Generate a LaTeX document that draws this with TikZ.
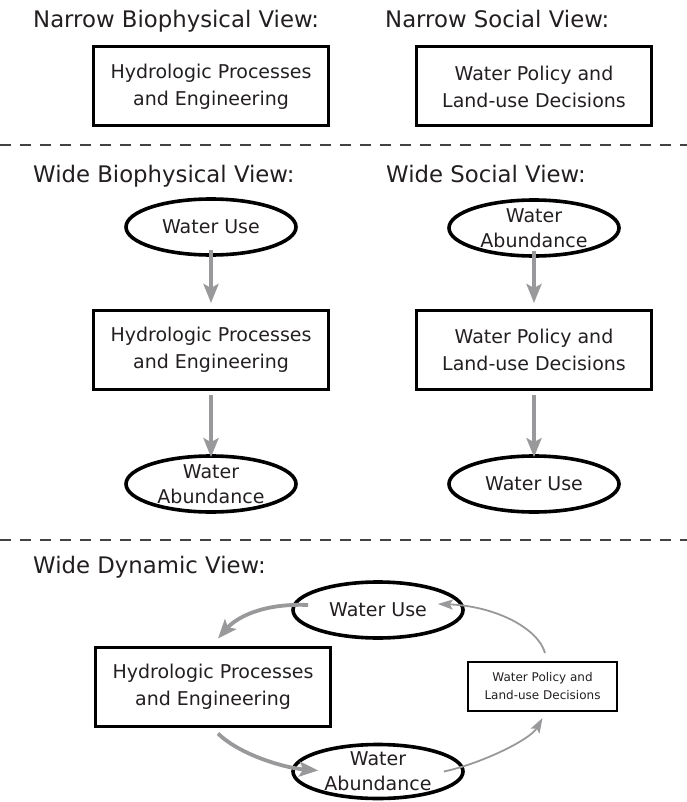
\documentclass[tikz,border=0pt]{standalone}
\usepackage{fontspec}
\setmainfont{DejaVu Sans}
\usetikzlibrary{shapes.geometric,arrows.meta}
\definecolor{flowgray}{RGB}{153,153,155}
\definecolor{inkdark}{RGB}{35,31,32}

\begin{document}
\begin{tikzpicture}[x=1pt,y=-1pt,
    heading/.style={anchor=base west,inner sep=0pt,text=inkdark,
                    font=\fontsize{22.8}{27}\selectfont},
    procbox/.style={draw,line width=3pt,minimum width=235pt,minimum height=79pt,
                    align=center,text=inkdark,font=\fontsize{19}{27}\selectfont},
    smallbox/.style={draw,line width=2pt,minimum width=149pt,minimum height=49pt,
                    align=center,text=inkdark,font=\fontsize{12}{18}\selectfont},
    quantity/.style={ellipse,draw,line width=3.6pt,minimum width=170pt,minimum height=56pt,
                    inner sep=-6pt,align=center,text=inkdark,
                    font=\fontsize{19}{25}\selectfont},
    flow/.style={-{Stealth[length=19pt,width=15pt,inset=4pt]},line width=3.8pt,draw=flowgray},
    thinflow/.style={-{Stealth[length=15pt,width=10pt,inset=3pt]},line width=1.8pt,draw=flowgray},
    divider/.style={draw=inkdark!85,line width=1.8pt,dash pattern=on 11pt off 9pt}]
    \useasboundingbox (0,0) rectangle (687,802);

    % narrow views
    \node [heading] (nbio) at (33,28) {Narrow Biophysical View:};
    \node [heading] (nsoc) at (385,28) {Narrow Social View:};
    \node [procbox] (nhyd) at (211,86.5) {Hydrologic Processes\\and Engineering};
    \node [procbox] (npol) at (534,86.5) {Water Policy and\\Land-use Decisions};

    \draw [divider] (0,145) -- (687,145);

    % wide views
    \node [heading] (wbio) at (33,183) {Wide Biophysical View:};
    \node [heading] (wsoc) at (386,183) {Wide Social View:};

    \node [quantity] (buse) at (211,227) {Water Use};
    \node [procbox]  (bhyd) at (211,350) {Hydrologic Processes\\and Engineering};
    \node [quantity] (babd) at (211,484) {Water\\Abundance};
    \draw [flow,shorten <=-7pt,shorten >=6pt] (buse) -- (bhyd);
    \draw [flow,shorten <=4pt,shorten >=-3pt] (bhyd) -- (babd);

    \node [quantity] (sabd) at (534,228) {Water\\Abundance};
    \node [procbox]  (spol) at (534,350) {Water Policy and\\Land-use Decisions};
    \node [quantity] (suse) at (534,484) {Water Use};
    \draw [flow,shorten <=-7pt,shorten >=6pt] (sabd) -- (spol);
    \draw [flow,shorten <=4pt,shorten >=-3pt] (spol) -- (suse);

    \draw [divider] (0,540) -- (687,540);

    % dynamic view
    \node [heading] (wdyn) at (33,573) {Wide Dynamic View:};

    \node [quantity] (duse) at (378,610) {Water Use};
    \node [procbox]  (dhyd) at (213,686.5) {Hydrologic Processes\\and Engineering};
    \node [smallbox] (dpol) at (542.5,686.5) {Water Policy and\\Land-use Decisions};
    \node [quantity,minimum height=54pt] (dabd) at (378,771.5) {Water\\Abundance};

    \draw [flow] ([xshift=17pt,yshift=5pt]duse.west)
                 .. controls (262,603) and (236,618) ..
                 ([xshift=5pt,yshift=7pt]dhyd.north);
    \draw [flow] ([xshift=5pt,yshift=-6pt]dhyd.south)
                 .. controls (240,755) and (285,768) ..
                 ([xshift=27pt,yshift=1pt]dabd.west);
    \draw [thinflow] ([xshift=-21pt]dabd.east)
                 .. controls (480,764) and (530,740) ..
                 ([yshift=-6pt]dpol.south);
    \draw [thinflow] ([xshift=2.5pt,yshift=8pt]dpol.north)
                 .. controls (538,628) and (495,606) ..
                 ([xshift=-27pt,yshift=6pt]duse.east);
\end{tikzpicture}
\end{document}
